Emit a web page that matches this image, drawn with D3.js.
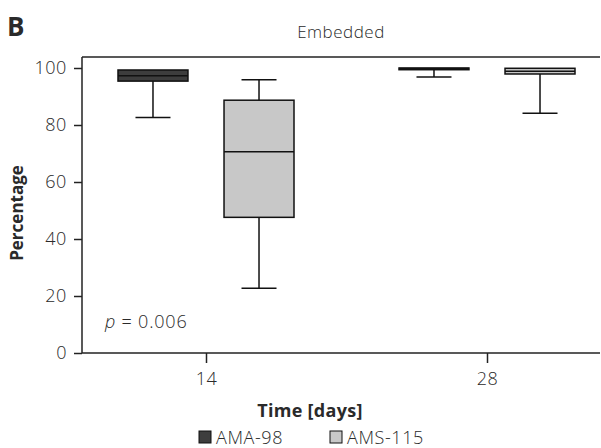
<!DOCTYPE html>
<html>
<head>
<meta charset="utf-8">
<script src="https://cdn.jsdelivr.net/npm/d3@7"></script>
<style>
  body { margin: 0; background: #fff; }
  text { font-family: "Open Sans", sans-serif; fill: #2a2a2a; }
</style>
</head>
<body>
<div id="chart"></div>
<script>
// data
var days = ["14", "28"];
var series = ["AMA-98", "AMS-115"];
var seriesColors = ["#3d3d3d", "#c8c8c8"];
// [min, q1, median, q3, max] per day
var ama98 = [[82.6, 95.4, 97.3, 99.3, 99.3], [96.8, 99.4, 99.8, 100, 100]];
var ams115 = [[22.7, 47.6, 70.6, 88.7, 95.9], [84.1, 97.9, 98.9, 99.9, 99.9]];
var yTicks = [0, 20, 40, 60, 80, 100];

var width = 601, height = 448;
// plot edges
var pLeft = 82, pRight = 600, pTop = 57, pBottom = 353;

var svg = d3.select("#chart").append("svg")
  .attr("width", width)
  .attr("height", height);

var x = d3.scalePoint().domain(days).range([206, 487]);
var inner = d3.scaleBand().domain(series).range([-88, 88]).paddingInner(0.34);
var y = d3.scaleLinear().domain([0, 100]).range([pBottom, 68]);

// top frame line
svg.append("line")
  .attr("x1", pLeft).attr("x2", pRight)
  .attr("y1", pTop).attr("y2", pTop)
  .attr("stroke", "#222").attr("stroke-width", 1.5);

var yAxis = svg.append("g")
  .attr("transform", "translate(" + pLeft + ",0)")
  .call(d3.axisLeft(y).tickValues(yTicks).tickSize(8).tickSizeOuter(0).tickPadding(7));
yAxis.select(".domain").attr("d", "M0," + pTop + "V" + pBottom);

var xAxis = svg.append("g")
  .attr("transform", "translate(0," + pBottom + ")")
  .call(d3.axisBottom(x).tickSize(10).tickSizeOuter(0).tickPadding(9));
xAxis.select(".domain").attr("d", "M" + pLeft + ",0H" + pRight);

svg.selectAll(".domain, .tick line").attr("stroke", "#222").attr("stroke-width", 1.5);
svg.selectAll(".tick text")
  .style("font-family", "'Open Sans', sans-serif")
  .style("font-size", "18px")
  .style("font-weight", "300")
  .style("letter-spacing", "0.6px")
  .attr("fill", "#2a2a2a");

// boxes
var rows = [];
days.forEach(function(d, i) {
  rows.push({ day: d, s: series[0], color: seriesColors[0], v: ama98[i] });
  rows.push({ day: d, s: series[1], color: seriesColors[1], v: ams115[i] });
});

function cx(d) { return x(d.day) + inner(d.s) + inner.bandwidth() / 2; }
var capW = 35;
var g = svg.selectAll(".box").data(rows).enter().append("g").attr("class", "box");

g.append("line")
  .attr("x1", cx).attr("x2", cx)
  .attr("y1", function(d) { return y(d.v[0]); })
  .attr("y2", function(d) { return y(d.v[4]); })
  .attr("stroke", "#111").attr("stroke-width", 1.5);

g.selectAll(".cap").data(function(d) { return [d, d]; }).enter().append("line")
  .attr("x1", function(d) { return cx(d) - capW / 2; })
  .attr("x2", function(d) { return cx(d) + capW / 2; })
  .attr("y1", function(d, i) { return y(i === 0 ? d.v[0] : d.v[4]); })
  .attr("y2", function(d, i) { return y(i === 0 ? d.v[0] : d.v[4]); })
  .attr("stroke", "#111").attr("stroke-width", 1.5)
  .attr("display", function(d, i) { return i === 1 && d.v[4] === d.v[3] ? "none" : null; });

g.append("rect")
  .attr("x", function(d) { return x(d.day) + inner(d.s); })
  .attr("width", inner.bandwidth())
  .attr("y", function(d) { return y(d.v[3]); })
  .attr("height", function(d) { return y(d.v[1]) - y(d.v[3]); })
  .attr("fill", function(d) { return d.color; })
  .attr("stroke", "#111").attr("stroke-width", 1.5);

g.append("line")
  .attr("x1", function(d) { return x(d.day) + inner(d.s); })
  .attr("x2", function(d) { return x(d.day) + inner(d.s) + inner.bandwidth(); })
  .attr("y1", function(d) { return y(d.v[2]); })
  .attr("y2", function(d) { return y(d.v[2]); })
  .attr("stroke", "#111").attr("stroke-width", 1.5);

// texts
svg.append("text").attr("x", 7).attr("y", 36)
  .style("font-size", "26px").style("font-weight", "bold").attr("fill", "#000")
  .text("B");

svg.append("text").attr("x", (pLeft + pRight) / 2).attr("y", 38)
  .attr("text-anchor", "middle").style("font-size", "17px").style("font-weight", "300")
  .style("letter-spacing", "0.5px")
  .text("Embedded");

svg.append("text")
  .attr("transform", "translate(23," + ((pTop + pBottom) / 2 + 8) + ")rotate(-90)")
  .attr("text-anchor", "middle")
  .style("font-size", "17px").style("font-weight", "bold").attr("fill", "#111")
  .text("Percentage");

svg.append("text").attr("x", 310).attr("y", 417)
  .attr("text-anchor", "middle")
  .style("font-size", "18px").style("font-weight", "bold").attr("fill", "#111")
  .style("letter-spacing", "0.3px")
  .text("Time [days]");

var pText = svg.append("text").attr("x", 105).attr("y", 328)
  .style("font-size", "18px").style("font-weight", "300").style("letter-spacing", "0.8px");
pText.append("tspan").style("font-style", "italic").text("p");
pText.append("tspan").text(" = 0.006");

// legend
var legendX = [199, 330];
var lg = svg.selectAll(".legend").data(series).enter().append("g")
  .attr("transform", function(d, i) { return "translate(" + legendX[i] + ",431)"; });
lg.append("rect").attr("width", 12).attr("height", 12)
  .attr("fill", function(d, i) { return seriesColors[i]; })
  .attr("stroke", "#111").attr("stroke-width", 1);
lg.append("text").attr("x", 17).attr("y", 12.5)
  .style("font-size", "18px").style("font-weight", "300").style("letter-spacing", "0.6px")
  .text(function(d) { return d; });
</script>
</body>
</html>
